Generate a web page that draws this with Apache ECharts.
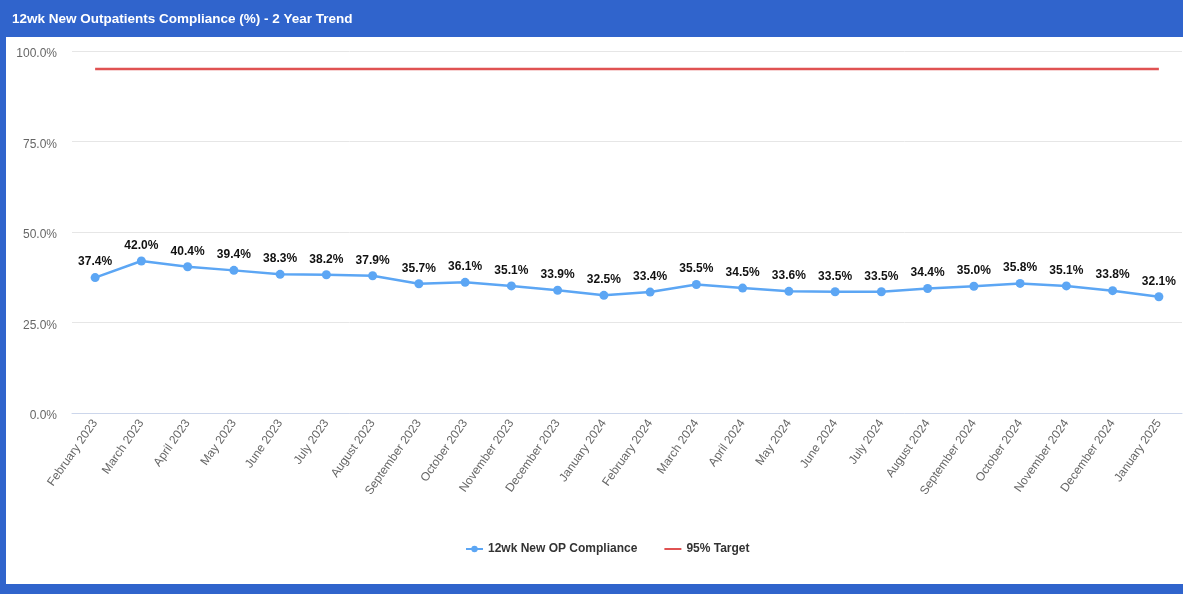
<!DOCTYPE html>
<html>
<head>
<meta charset="utf-8">
<script src="https://cdn.jsdelivr.net/npm/echarts@6/dist/echarts.min.js"></script>
<style>
  html, body { margin: 0; padding: 0; background: #ffffff; }
  #chart { width: 1183px; height: 594px; }
</style>
</head>
<body>
<div id="chart"></div>
<script>
// --- donnees ---
const months = [
  "February 2023", "March 2023", "April 2023", "May 2023", "June 2023", "July 2023",
  "August 2023", "September 2023", "October 2023", "November 2023", "December 2023", "January 2024",
  "February 2024", "March 2024", "April 2024", "May 2024", "June 2024", "July 2024",
  "August 2024", "September 2024", "October 2024", "November 2024", "December 2024", "January 2025"
];
const compliance = [
  37.4, 42.0, 40.4, 39.4, 38.3, 38.2, 37.9, 35.7, 36.1, 35.1, 33.9, 32.5,
  33.4, 35.5, 34.5, 33.6, 33.5, 33.5, 34.4, 35.0, 35.8, 35.1, 33.8, 32.1
];
const target = months.map(() => 95);
const yTicks = [0, 25, 50, 75, 100];

const FRAME_BLUE = "#3064cc";
const FONT = "'Liberation Sans', Arial, sans-serif";

const chart = echarts.init(document.getElementById("chart"));

chart.setOption({
  animation: false,
  textStyle: { fontFamily: FONT },
  graphic: [
    // bandeau de titre + cadre
    { type: "rect", shape: { x: 0, y: 0, width: 1183, height: 37 }, style: { fill: FRAME_BLUE } },
    { type: "rect", shape: { x: 0, y: 0, width: 6, height: 594 }, style: { fill: FRAME_BLUE } },
    { type: "rect", shape: { x: 0, y: 584, width: 1183, height: 10 }, style: { fill: FRAME_BLUE } },
    {
      type: "text", left: 12, top: 12,
      style: {
        text: "12wk New Outpatients Compliance (%) - 2 Year Trend",
        fill: "#ffffff", font: "bold 13.5px " + FONT
      }
    }
  ],
  grid: { left: 72, right: 1, top: 51, bottom: 181, containLabel: false },
  legend: {
    bottom: 34,
    left: 460,
    itemGap: 26,
    itemWidth: 17,
    itemHeight: 8,
    textStyle: { fontSize: 12, fontWeight: "bold", color: "#333333", fontFamily: FONT },
    data: [
      { name: "12wk New OP Compliance" },
      // cible : ligne seule dans la legende, marqueur masque
      { name: "95% Target", itemStyle: { color: "rgba(0,0,0,0)", borderWidth: 0 } }
    ]
  },
  xAxis: {
    type: "category",
    data: months,
    boundaryGap: true,
    axisLine: { lineStyle: { color: "#ccd6eb" } },
    axisTick: { show: false },
    axisLabel: { rotate: 55, color: "#666666", fontSize: 12, margin: 8, interval: 0 }
  },
  yAxis: {
    type: "value",
    min: yTicks[0],
    max: yTicks[yTicks.length - 1],
    interval: 25,
    axisLine: { show: false },
    axisTick: { show: false },
    splitLine: { lineStyle: { color: "#e6e6e6" } },
    axisLabel: {
      color: "#666666", fontSize: 12, margin: 15, verticalAlign: "top", padding: [-3, 0, 0, 0],
      formatter: (v) => v.toFixed(1) + "%"
    }
  },
  series: [
    {
      name: "12wk New OP Compliance",
      type: "line",
      data: compliance,
      color: "#5ca6f4",
      symbol: "circle",
      symbolSize: 9,
      lineStyle: { width: 2.5, color: "#5ca6f4" },
      itemStyle: { color: "#5ca6f4" },
      label: {
        show: true,
        position: "top",
        distance: 5,
        fontSize: 12,
        fontWeight: "bold",
        color: "#111111",
        textBorderColor: "#ffffff",
        textBorderWidth: 2,
        formatter: (p) => p.value.toFixed(1) + "%"
      },
      z: 3
    },
    {
      name: "95% Target",
      type: "line",
      data: target,
      color: "#e05252",
      symbol: "none",
      lineStyle: { width: 2.5, color: "#e05252" },
      z: 2
    }
  ]
});
</script>
</body>
</html>
